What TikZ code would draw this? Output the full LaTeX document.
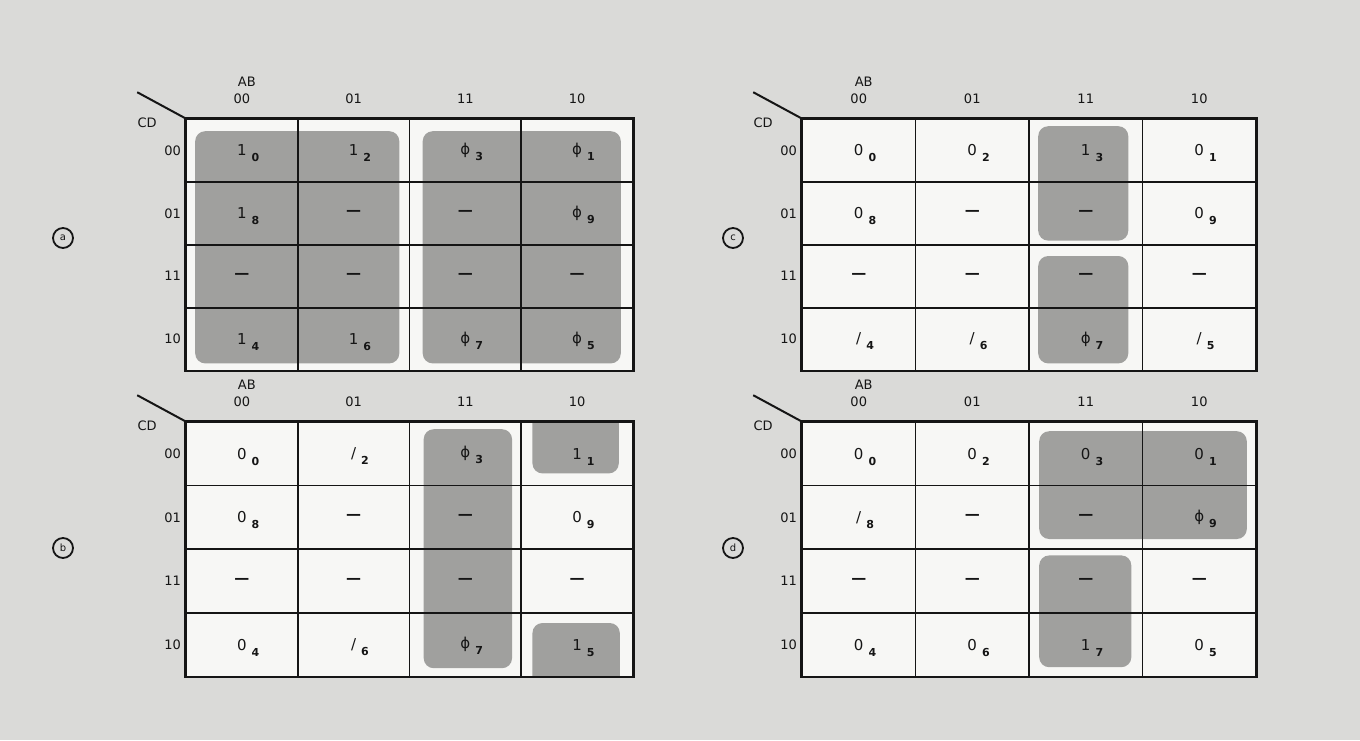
\documentclass[tikz,border=0pt]{standalone}
\usepackage{fontspec}
\setmainfont{DejaVu Sans}
\usepackage{tikz}
\usetikzlibrary{positioning,backgrounds}
\definecolor{paper}{HTML}{DADAD8}
\definecolor{cellwhite}{HTML}{F7F7F5}
\definecolor{loopgrey}{HTML}{A0A09E}
\definecolor{ink}{HTML}{151515}
\tikzset{
  kcell/.style={draw=ink, line width=1.6pt, inner sep=0pt, text=ink,
    font=\fontsize{15}{15}\selectfont},
  axislabel/.style={text=ink, inner sep=1pt, font=\fontsize{13}{13}\selectfont},
  maptag/.style={circle, draw=ink, line width=1.8pt, minimum size=20pt, inner sep=0pt,
    text=ink, font=\fontsize{10}{10}\selectfont},
  loopbox/.style={fill=loopgrey, rounded corners=10pt},
  mapframe/.style={draw=ink, line width=2pt},
  slash/.style={draw=ink, line width=2pt},
}
% entry with its minterm index
\newcommand{\kv}[2]{#1\rlap{\smash{\hspace{5pt}\raisebox{-6pt}{\fontsize{11}{11}\selectfont\bfseries #2}}}}
\newcommand{\dc}{{\bfseries —}}
% one map: name, left, top, cell width, cell height, the 16 entries row by row
\newcommand{\kmap}[6]{%
  \foreach \val [count=\i from 0] in {#6}{
    \pgfmathtruncatemacro{\row}{\i/4+1}
    \pgfmathtruncatemacro{\col}{mod(\i,4)+1}
    \node[kcell, minimum width=#4pt, minimum height=#5pt] (#1-\row-\col)
      at ({#2+(\col-0.5)*#4},{#3+(\row-0.5)*#5}) {\val};
  }
  \foreach \lab [count=\k] in {00,01,11,10}{
    \node[axislabel] (#1-ab-\k) at ([yshift=19pt]#1-1-\k.north) {\lab};
    \node[axislabel, anchor=east] (#1-cd-\k) at ([xshift=-3pt]#1-\k-1.west) {\lab};
  }
  \node[axislabel] (#1-ab) at ([xshift=5pt,yshift=36pt]#1-1-1.north) {AB};
  \node[axislabel] (#1-cd) at ([xshift=-38pt,yshift=-5pt]#1-1-1.north west) {CD};
  \draw[slash] (#1-1-1.north west) -- ++(-48pt,26pt) coordinate (#1-tip);
  \draw[mapframe] (#1-1-1.north west) rectangle (#1-4-4.south east);
}

\begin{document}
\begin{tikzpicture}[x=1pt, y=-1pt]
  \useasboundingbox (0,0) rectangle (1360,740);
  \begin{scope}[on background layer]
    \fill[paper] (0,0) rectangle (1360,740);
  \end{scope}

  % map (a)
  \kmap{a}{186}{119}{111.75}{62.9}{\kv{1}{0},\kv{1}{2},\kv{ϕ}{3},\kv{ϕ}{1},
    \kv{1}{8},\dc,\dc,\kv{ϕ}{9}, \dc,\dc,\dc,\dc, \kv{1}{4},\kv{1}{6},\kv{ϕ}{7},\kv{ϕ}{5}}
  % map (c)
  \kmap{c}{802}{119}{113.5}{62.9}{\kv{0}{0},\kv{0}{2},\kv{1}{3},\kv{0}{1},
    \kv{0}{8},\dc,\dc,\kv{0}{9}, \dc,\dc,\dc,\dc, \kv{/}{4},\kv{/}{6},\kv{ϕ}{7},\kv{/}{5}}
  % map (b)
  \kmap{b}{186}{422}{111.75}{63.6}{\kv{0}{0},\kv{/}{2},\kv{ϕ}{3},\kv{1}{1},
    \kv{0}{8},\dc,\dc,\kv{0}{9}, \dc,\dc,\dc,\dc, \kv{0}{4},\kv{/}{6},\kv{ϕ}{7},\kv{1}{5}}
  % map (d)
  \kmap{d}{802}{422}{113.5}{63.6}{\kv{0}{0},\kv{0}{2},\kv{0}{3},\kv{0}{1},
    \kv{/}{8},\dc,\dc,\kv{ϕ}{9}, \dc,\dc,\dc,\dc, \kv{0}{4},\kv{0}{6},\kv{1}{7},\kv{0}{5}}

  \node[maptag] (tag-a) at (63,238) {a};
  \node[maptag] (tag-c) at (733,238) {c};
  \node[maptag] (tag-b) at (63,548) {b};
  \node[maptag] (tag-d) at (733,548) {d};

  \begin{scope}[on background layer]
    \foreach \m in {a,b,c,d}
      \fill[cellwhite] (\m-1-1.north west) rectangle (\m-4-4.south east);
    % loops of (a)
    \fill[loopbox] ([shift={(10pt,-13pt)}]a-1-1.north west) rectangle ([shift={(-11pt,8pt)}]a-4-2.south east);
    \fill[loopbox] ([shift={(14pt,-13pt)}]a-1-3.north west) rectangle ([shift={(-13pt,8pt)}]a-4-4.south east);
    % loops of (c)
    \fill[loopbox] ([shift={(10pt,-8pt)}]c-1-3.north west) rectangle ([shift={(-15pt,5pt)}]c-2-3.south east);
    \fill[loopbox] ([shift={(10pt,-12pt)}]c-3-3.north west) rectangle ([shift={(-15pt,8pt)}]c-4-3.south east);
    % loops of (b), the corner ones wrap round the edge
    \fill[loopbox] ([shift={(15pt,-8pt)}]b-1-3.north west) rectangle ([shift={(-10pt,9pt)}]b-4-3.south east);
    \begin{scope}
      \clip (b-1-1.north west) rectangle (b-4-4.south east);
      \fill[loopbox] ([shift={(12pt,20pt)}]b-1-4.north west) rectangle ([shift={(-15pt,13pt)}]b-1-4.south east);
      \fill[loopbox] ([shift={(12pt,-11pt)}]b-4-4.north west) rectangle ([shift={(-14pt,-20pt)}]b-4-4.south east);
    \end{scope}
    % loops of (d)
    \fill[loopbox] ([shift={(11pt,-10pt)}]d-1-3.north west) rectangle ([shift={(-10pt,11pt)}]d-2-4.south east);
    \fill[loopbox] ([shift={(11pt,-7pt)}]d-3-3.north west) rectangle ([shift={(-12pt,10pt)}]d-4-3.south east);
  \end{scope}
\end{tikzpicture}
\end{document}
